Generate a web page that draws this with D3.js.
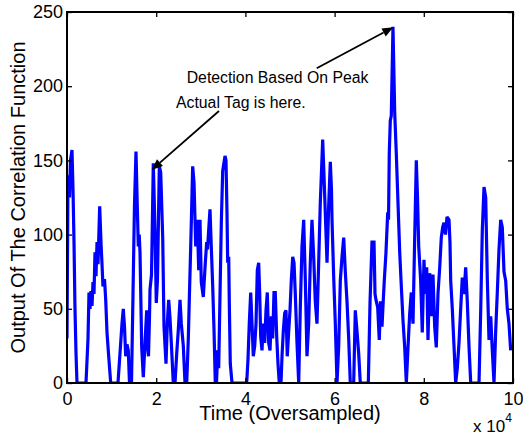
<!DOCTYPE html>
<html><head><meta charset="utf-8">
<script src="https://cdn.jsdelivr.net/npm/d3@7"></script>
<style>
html,body{margin:0;padding:0;background:#fff;}
svg{display:block;font-family:Arial,"Liberation Sans",Helvetica,sans-serif;}
</style></head>
<body>
<svg id="chart" width="523" height="438"></svg>
<script>
// Time axis values in units of 10^4 samples
const timeE4 = [
0.000,0.022,0.056,0.078,0.112,0.135,0.157,0.179,0.202,0.224,0.426,0.471,0.493,0.516,0.538,0.561,0.583,0.605,0.628,0.650,
0.673,0.695,0.733,0.762,0.785,0.807,0.841,0.868,0.897,0.930,0.980,1.143,1.188,1.233,1.262,1.289,1.316,1.345,1.374,1.401,
1.446,1.480,1.513,1.547,1.576,1.599,1.619,1.637,1.675,1.711,1.749,1.787,1.805,1.827,1.850,1.861,1.895,1.935,1.973,2.002,
2.029,2.070,2.101,2.146,2.175,2.220,2.249,2.280,2.309,2.339,2.383,2.422,2.460,2.496,2.534,2.563,2.608,2.646,2.684,2.720,
2.742,2.774,2.818,2.848,2.886,2.922,2.953,2.982,3.011,3.056,3.101,3.132,3.150,3.206,3.235,3.267,3.296,3.325,3.352,3.379,
3.401,3.430,3.460,3.491,3.543,3.565,3.587,3.603,3.626,3.639,3.661,3.700,4.029,4.058,4.087,4.119,4.148,4.177,4.209,4.238,
4.267,4.298,4.321,4.343,4.372,4.401,4.433,4.462,4.491,4.522,4.552,4.581,4.612,4.641,4.670,4.702,4.731,4.760,4.798,4.821,
4.850,4.881,4.910,4.939,4.971,5.000,5.029,5.061,5.090,5.119,5.157,5.195,5.231,5.269,5.307,5.343,5.381,5.419,5.455,5.493,
5.531,5.567,5.605,5.643,5.679,5.733,5.762,5.791,5.830,5.868,5.904,5.930,5.942,5.980,6.016,6.054,6.092,6.128,6.166,6.204,
6.240,6.278,6.316,6.352,6.428,6.464,6.502,6.540,6.576,6.756,6.794,6.839,6.861,6.883,6.906,6.928,6.966,7.002,7.029,7.063,
7.085,7.114,7.152,7.191,7.209,7.226,7.249,7.271,7.309,7.348,7.383,7.422,7.460,7.496,7.534,7.572,7.608,7.646,7.684,7.720,
7.758,7.796,7.832,7.859,7.886,7.930,7.966,8.004,8.034,8.065,8.094,8.132,8.168,8.206,8.244,8.280,8.318,8.357,8.392,8.424,
8.453,8.487,8.520,8.565,8.587,8.603,8.639,8.677,8.715,8.751,8.789,8.827,8.863,8.901,8.939,8.975,9.013,9.052,9.238,9.276,
9.312,9.350,9.388,9.424,9.462,9.500,9.536,9.574,9.612,9.648,9.686,9.724,9.760,9.798,9.836,9.872,9.910,9.948
];
// Output of the correlation function
const corrOutput = [
30,140,125,150,157,130,95,50,20,0,0,30,61,50,62,52,68,60,88,72,
95,80,119,95,80,65,70,56,34,20,0,0,20,40,50,38,18,26,22,0,
0,60,120,156,119,92,100,88,24,4,27,49,25,18,45,63,73,148,103,54,
70,146,142,98,38,13,40,56,44,27,0,0,20,36,56,40,25,0,0,30,
56,92,146,135,92,110,76,110,68,58,81,95,90,117,92,65,36,0,0,22,
10,58,108,143,153,150,115,81,85,54,13,0,0,16,40,61,40,18,25,40,
76,81,60,31,22,40,27,49,61,27,22,45,30,61,61,31,13,0,0,18,
35,47,49,18,35,49,69,85,81,60,27,0,51,92,110,70,18,40,81,110,
85,55,40,81,121,164,140,115,81,120,149,130,110,71,40,0,25,69,85,98,
75,55,30,0,0,49,35,20,0,0,54,96,85,96,60,56,51,29,55,38,
52,69,88,115,110,155,177,180,240,182,155,121,88,65,42,24,0,24,47,61,
40,98,150,125,92,69,34,83,60,78,29,74,45,73,38,24,60,78,98,105,
108,100,112,110,95,69,50,25,0,10,27,50,71,60,78,55,25,0,0,49,
103,132,125,70,29,45,22,0,35,61,90,110,105,75,69,50,40,22
];
const xTickValues = [0, 2, 4, 6, 8, 10];
const yTickValues = [0, 50, 100, 150, 200, 250];
const xLabel = "Time (Oversampled)";
const yLabel = "Output Of The Correlation Function";
const annotations = [
  {text: "Detection Based On Peak", tx: 2.684, ty: 202.4, from: [5.599, 212.1], to: [7.316, 239.7]},
  {text: "Actual Tag is here.", tx: 2.444, ty: 185.3, from: [3.408, 183.3], to: [1.899, 143.6]}
];

const svg = d3.select("#chart");
const m = {left: 67, top: 12, right: 10, bottom: 55};
const W = 523 - m.left - m.right, H = 438 - m.top - m.bottom;
const x = d3.scaleLinear().domain([0, 10]).range([0, W]);
const y = d3.scaleLinear().domain([0, 250]).range([H, 0]);
const g = svg.append("g").attr("transform", `translate(${m.left},${m.top})`);

const data = timeE4.map((t, i) => [t, corrOutput[i]]);
g.append("defs").append("clipPath").attr("id", "clip")
  .append("rect").attr("x", 0).attr("y", -3).attr("width", W).attr("height", H + 3);
g.append("path").datum(data)
  .attr("clip-path", "url(#clip)")
  .attr("fill", "none").attr("stroke", "#0000ff").attr("stroke-width", 3.2)
  .attr("stroke-linejoin", "miter").attr("stroke-miterlimit", 2.5)
  .attr("d", d3.line().x(d => x(d[0])).y(d => y(d[1])));

// axes (MATLAB style: inward ticks, full box)
const tl = 5;
const ax = [
  {axis: d3.axisBottom(x).tickValues(xTickValues).tickSize(-tl).tickPadding(9).tickFormat(d3.format("d")), tr: `translate(0,${H})`},
  {axis: d3.axisTop(x).tickValues(xTickValues).tickSize(-tl).tickFormat(""), tr: `translate(0,0)`},
  {axis: d3.axisLeft(y).tickValues(yTickValues).tickSize(-tl).tickPadding(4).tickFormat(d3.format("d")), tr: `translate(0,0)`},
  {axis: d3.axisRight(y).tickValues(yTickValues).tickSize(-tl).tickFormat(""), tr: `translate(${W},0)`}
];
ax.forEach(a => {
  const s = g.append("g").attr("transform", a.tr).call(a.axis);
  s.select(".domain").remove();
  s.selectAll(".tick line").attr("stroke", "#000").attr("stroke-width", 1.3);
  s.selectAll("text").attr("font-size", 18).attr("fill", "#000")
    .attr("font-family", "Arial, 'Liberation Sans', sans-serif");
});
g.append("rect").attr("x", 0).attr("y", 0).attr("width", W).attr("height", H)
  .attr("fill", "none").attr("stroke", "#000").attr("stroke-width", 2);

// axis labels
svg.append("text").attr("x", m.left + W / 2).attr("y", 420)
  .attr("text-anchor", "middle").attr("font-size", 20).attr("fill", "#000").text(xLabel);
svg.append("text").attr("transform", `translate(25,${m.top + H / 2}) rotate(-90)`)
  .attr("text-anchor", "middle").attr("font-size", 20).attr("fill", "#000").text(yLabel);
const ex = svg.append("text").attr("x", 473).attr("y", 432).attr("font-size", 17).attr("fill", "#000");
ex.append("tspan").text("x 10");
ex.append("tspan").attr("font-size", 12).attr("dy", -10).text("4");

// annotations
annotations.forEach(a => {
  g.append("text").attr("x", x(a.tx)).attr("y", y(a.ty)).attr("font-size", 15.8)
    .attr("fill", "#000").text(a.text);
  const x1 = x(a.from[0]), y1 = y(a.from[1]), x2 = x(a.to[0]), y2 = y(a.to[1]);
  const ang = Math.atan2(y2 - y1, x2 - x1), hl = 11, hw = 4.5;
  const bx = x2 - hl * Math.cos(ang), by = y2 - hl * Math.sin(ang);
  g.append("line").attr("x1", x1).attr("y1", y1).attr("x2", bx).attr("y2", by)
    .attr("stroke", "#000").attr("stroke-width", 1.8);
  const px = -Math.sin(ang) * hw, py = Math.cos(ang) * hw;
  g.append("path").attr("d", `M${x2},${y2}L${bx + px},${by + py}L${bx - px},${by - py}Z`)
    .attr("fill", "#000");
});
</script>
</body></html>
